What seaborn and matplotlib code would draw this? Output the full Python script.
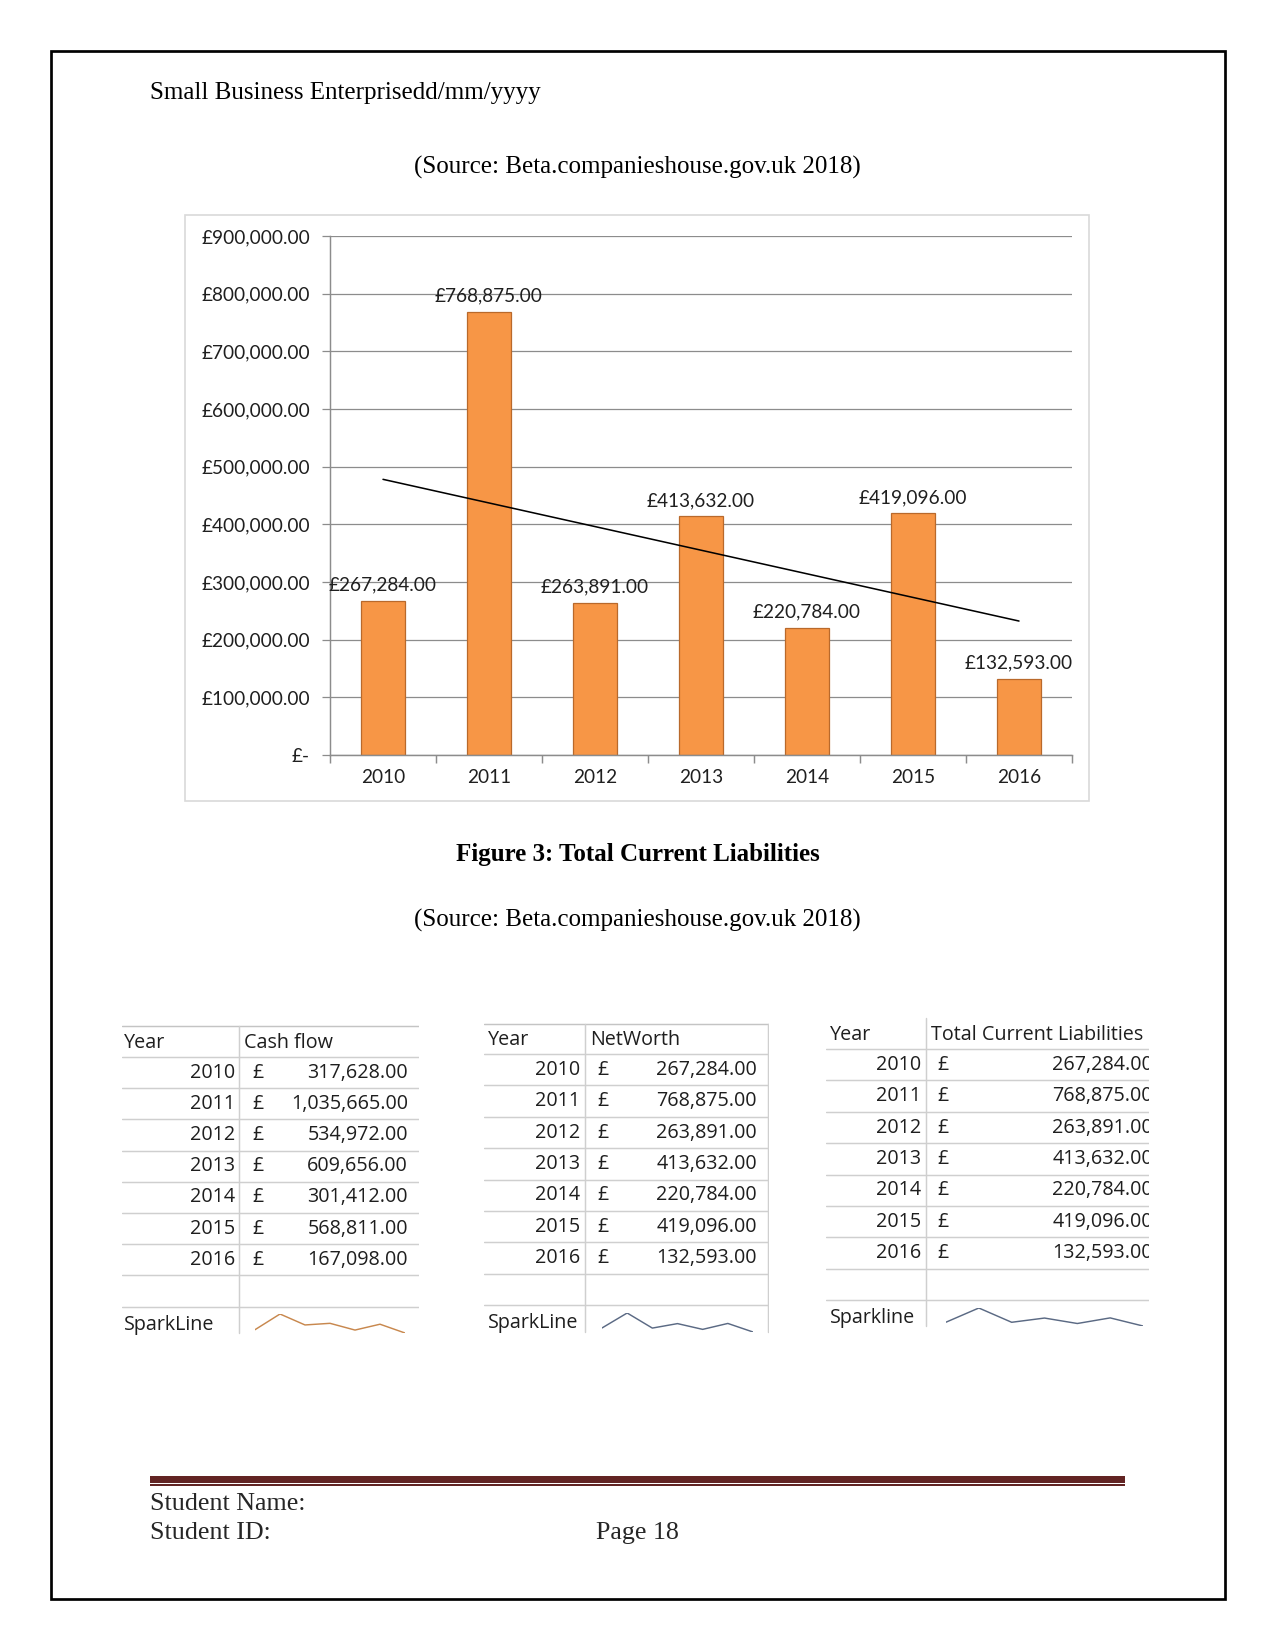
import numpy as np
import pandas as pd
import matplotlib.pyplot as plt
from matplotlib.patches import Rectangle
import seaborn as sns

# data
years = ['2010', '2011', '2012', '2013', '2014', '2015', '2016']
liabilities = [267284, 768875, 263891, 413632, 220784, 419096, 132593]
cash_flow = [317628, 1035665, 534972, 609656, 301412, 568811, 167098]
net_worth = [267284, 768875, 263891, 413632, 220784, 419096, 132593]

ytick_values = [0, 100000, 200000, 300000, 400000, 500000, 600000, 700000, 800000, 900000]
ytick_labels = ['£-', '£100,000.00', '£200,000.00', '£300,000.00', '£400,000.00',
                '£500,000.00', '£600,000.00', '£700,000.00', '£800,000.00', '£900,000.00']

W, H = 1275, 1650
SERIF = ['Liberation Serif', 'DejaVu Serif']
SANS = ['Lato', 'DejaVu Sans']
CELL = ['Open Sans', 'DejaVu Sans']

sns.set_theme(style='white')
plt.rcParams['font.family'] = SANS


def box(x0, y0, x1, y1):
    # pixel box (top-left origin) -> figure fraction rect
    return [x0 / W, 1 - y1 / H, (x1 - x0) / W, (y1 - y0) / H]


fig = plt.figure(figsize=(W / 150, H / 150), dpi=150)

# page layer in pixel coordinates
page = fig.add_axes([0, 0, 1, 1], zorder=0)
page.set_xlim(0, W)
page.set_ylim(H, 0)
page.axis('off')

page.add_patch(Rectangle((50.5, 50.5), 1174, 1548.5, fill=False, edgecolor='black', lw=1.3))
page.text(150, 92.5, 'Small Business Enterprisedd/mm/yyyy', family=SERIF, fontsize=12,
          ha='left', va='center', color='black')
page.text(637.5, 167.5, '(Source: Beta.companieshouse.gov.uk 2018)', family=SERIF, fontsize=12,
          ha='center', va='center', color='black')
page.text(637.5, 854.5, 'Figure 3: Total Current Liabilities', family=SERIF, fontsize=12,
          fontweight='bold', ha='center', va='center', color='black')
page.text(637.5, 920, '(Source: Beta.companieshouse.gov.uk 2018)', family=SERIF, fontsize=12,
          ha='center', va='center', color='black')

# chart frame
page.add_patch(Rectangle((185, 215), 904, 586, fill=False, edgecolor='#d9d9d9', lw=0.8))

# footer
page.add_patch(Rectangle((150, 1476), 975, 6.5, facecolor='#622423', edgecolor='none'))
page.add_patch(Rectangle((150, 1484.3), 975, 1.6, facecolor='#622423', edgecolor='none'))
page.text(150, 1504, 'Student Name:', family=SERIF, fontsize=12.5, ha='left', va='center')
page.text(150, 1533, 'Student ID:', family=SERIF, fontsize=12.5, ha='left', va='center')
page.text(595.5, 1533, 'Page 18', family=SERIF, fontsize=12.5, ha='left', va='center')

# ---- bar chart ----
grid_c = '#8c8c8c'
text_c = '#1f1f1f'
CFS = 9.1
ax = fig.add_axes(box(330, 236, 1072, 755), zorder=1)
df = pd.DataFrame({'year': years, 'value': liabilities})
sns.barplot(data=df, x='year', y='value', color='#F79646', saturation=1, width=0.41,
            edgecolor='#b9692b', linewidth=0.6, ax=ax)
sns.regplot(x=np.arange(len(years)), y=liabilities, scatter=False, ci=None, truncate=True,
            color='black', line_kws={'linewidth': 0.75}, ax=ax)

ax.set_xlim(-0.5, len(years) - 0.5)
ax.set_ylim(0, 900000)
ax.set_yticks(ytick_values)
ax.set_yticklabels(ytick_labels)
ax.set_xlabel('')
ax.set_ylabel('')
ax.set_axisbelow(True)
ax.yaxis.grid(True, color=grid_c, lw=0.6)
for s in ['top', 'right']:
    ax.spines[s].set_visible(False)
for s in ['left', 'bottom']:
    ax.spines[s].set_color(grid_c)
    ax.spines[s].set_linewidth(0.7)
ax.tick_params(axis='y', left=True, length=3.8, width=0.6, color=grid_c, pad=5.8,
               labelsize=CFS, labelcolor=text_c)
ax.set_xticks(np.arange(-0.5, len(years), 1), minor=True)
ax.tick_params(axis='x', which='minor', bottom=True, length=3.8, width=0.7, color=grid_c)
ax.tick_params(axis='x', which='major', bottom=False, length=0, pad=6.5,
               labelsize=CFS, labelcolor=text_c)
bar_labels = [f'£{v:,.2f}' for v in liabilities]
ax.bar_label(ax.containers[0], labels=bar_labels, padding=3.5, fontsize=CFS, color=text_c)


# ---- spreadsheet snippets ----
line_c = '#cfcfcf'
cell_c = '#1e1e1e'
TFS = 9.5


def draw_table(x0, x1, y0, y1, xsep, top, row0, rowh, head, yr_r, pound_l, val_r,
               vals, spark_name, spark_y, vbot, right_border, spark_box, spark_c, yr_l):
    t = fig.add_axes(box(x0, y0, x1, y1), zorder=1)
    t.set_xlim(x0, x1)
    t.set_ylim(y1, y0)
    t.axis('off')
    if top is not None:
        t.plot([x0, x1], [top, top], color='#c4c4c4', lw=0.7)
    for k in range(9):
        yy = row0 + k * rowh
        t.plot([x0, x1], [yy, yy], color=line_c, lw=0.7)
    vtop = top if top is not None else row0 - rowh
    t.plot([xsep, xsep], [vtop, vbot], color=line_c, lw=0.7)
    if right_border:
        t.plot([x1 - 1, x1 - 1], [vtop, vbot], color=line_c, lw=0.7)
    kw = dict(family=CELL, fontsize=TFS, va='center', color=cell_c)
    hy = row0 - rowh / 2 + 2
    t.text(yr_l, hy, 'Year', ha='left', clip_on=True, **kw)
    t.text(xsep + 5, hy, head, ha='left', clip_on=True, **kw)
    for k, (yr, v) in enumerate(zip(years, vals)):
        yy = row0 + (k + 0.5) * rowh
        t.text(yr_r, yy, yr, ha='right', **kw)
        t.text(pound_l, yy, '£', ha='left', **kw)
        t.text(val_r, yy, f'{v:,.2f}', ha='right', clip_on=True, **kw)
    t.text(yr_l, spark_y, spark_name, ha='left', **kw)

    sp = fig.add_axes(box(*spark_box), zorder=2)
    sns.lineplot(x=np.arange(len(vals)), y=vals, color=spark_c, lw=0.7, ax=sp)
    sp.set_xlim(0, len(vals) - 1)
    sp.set_ylim(min(vals), max(vals))
    sp.axis('off')
    sp.patch.set_alpha(0)


draw_table(122, 419, 1015, 1340, 239, 1025.7, 1057, 31.2, 'Cash flow', 235, 252, 408,
           cash_flow, 'SparkLine', 1325, 1333, False, (255, 1314, 405, 1333), '#c8884e', 124)
draw_table(484, 769, 1015, 1340, 585, 1024, 1054, 31.4, 'NetWorth', 580, 597, 757,
           net_worth, 'SparkLine', 1323, 1332, True, (602, 1313, 753, 1332), '#5b6a84', 488)
draw_table(826, 1149, 1015, 1340, 926, None, 1049, 31.4, 'Total Current Liabilities', 921, 937,
           1153, liabilities, 'Sparkline', 1318, 1326, False, (946, 1308, 1143, 1326), '#5b6a84', 830)

fig.savefig('out.png', dpi=150)
